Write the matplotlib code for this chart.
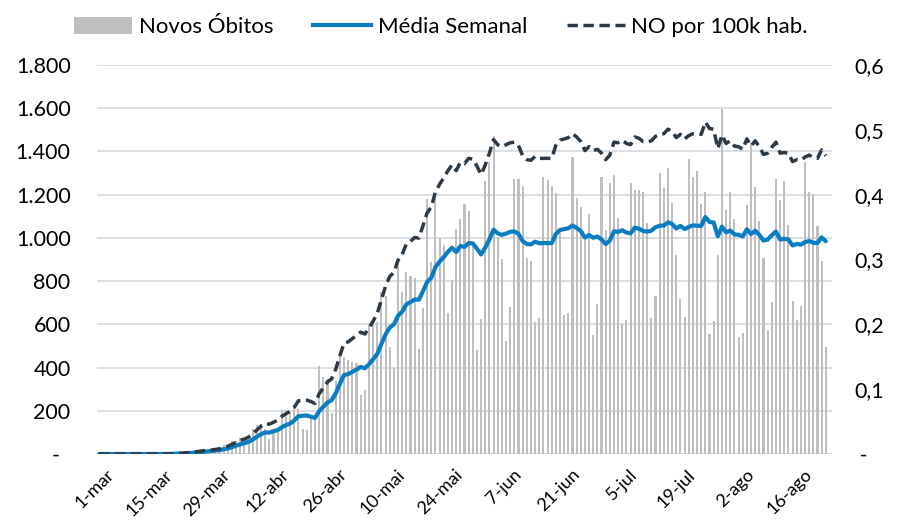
import numpy as np
import matplotlib
matplotlib.use("Agg")
import matplotlib.pyplot as plt
from matplotlib.patches import Patch
from matplotlib.lines import Line2D
from matplotlib.ticker import FuncFormatter, FixedLocator
from matplotlib.transforms import ScaledTranslation

plt.rcParams['font.family'] = ['Lato', 'DejaVu Sans']

# novos óbitos diários, 1-mar a 23-ago
novos_obitos = [
    0, 0, 0, 0, 0, 0, 0, 0, 0, 0, 0, 0, 0, 0, 0, 0,
    1, 3, 3, 4, 7, 7, 9, 12, 13, 18, 15, 22, 22, 23, 42,
    39, 59, 60, 73, 54, 67, 114, 133, 141, 115, 68, 99, 105, 204, 204,
    188, 217, 206, 115, 113, 166, 165, 407, 357, 346, 189, 338, 474, 449, 435,
    428, 421, 275, 296, 600, 615, 610, 751, 730, 496, 396, 881, 749, 844, 824,
    816, 485, 674, 1179, 888, 1188, 1001, 965, 653, 807, 1039, 1086, 1156, 1124, 956, 480,
    623, 1262, 1349, 1473, 1005, 904, 525, 679, 1272, 1274, 1239, 909, 892, 612, 627,
    1282, 1269, 1238, 1206, 1022, 641, 654, 1374, 1185, 1141, 990, 1109, 552, 692, 1280,
    1038, 1252, 1290, 1091, 602, 620, 1254, 1223, 1220, 1214, 1071, 631, 733, 1300, 1233,
    1322, 1163, 921, 716, 632, 1367, 1284, 1311, 1156, 1211, 555, 614, 921, 1595, 1129, 1212,
    1088, 541, 561, 1154, 1437, 1237, 1079, 905, 572, 703, 1274, 1175, 1262, 1060, 709,
    620, 684, 1352, 1212, 1204, 1054, 892, 494,
]

media_semanal = [
    0, 0, 0, 0, 0, 0, 0, 0, 0, 0, 0, 0, 0, 0, 0, 0,
    0.1, 0.6, 1.0, 1.6, 2.6, 3.6, 4.9, 6.4, 7.9, 10.0, 11.6, 13.7, 15.9, 17.9, 22.1,
    25.9, 31.7, 38.1, 45.4, 50.0, 56.3, 66.6, 80.0, 91.7, 99.6, 98.9, 105.3, 110.7, 123.6, 133.7,
    140.4, 155.0, 174.7, 177.0, 178.1, 172.7, 167.1, 198.4, 218.4, 238.4, 249.0, 281.1, 325.1, 365.7, 369.7,
    379.9, 390.6, 402.9, 396.9, 414.9, 438.6, 463.6, 509.7, 553.9, 585.4, 599.7, 639.9, 659.0, 692.4, 702.9,
    715.1, 713.6, 753.3, 795.9, 815.7, 864.9, 890.1, 911.4, 935.4, 954.4, 934.4, 962.7, 958.1, 975.7, 974.4, 949.7,
    923.4, 955.3, 992.9, 1038.1, 1021.1, 1013.7, 1020.1, 1028.1, 1029.6, 1018.9, 985.4, 971.7, 970.0, 982.4, 975.0,
    976.4, 975.7, 975.6, 1018.0, 1036.6, 1040.7, 1044.6, 1057.7, 1045.7, 1031.9, 1001.0, 1013.4, 1000.7, 1006.1, 992.7,
    971.7, 987.6, 1030.4, 1027.9, 1035.0, 1024.7, 1021.0, 1047.4, 1042.9, 1032.0, 1029.1, 1033.3, 1049.4, 1056.0, 1057.4,
    1072.0, 1064.7, 1043.3, 1055.4, 1041.0, 1050.6, 1057.9, 1056.3, 1055.3, 1096.7, 1073.7, 1071.1, 1007.4, 1051.9, 1025.9, 1033.9,
    1016.3, 1014.3, 1006.7, 1040.0, 1017.4, 1032.9, 1013.9, 987.7, 992.1, 1012.4, 1029.6, 992.1, 995.7, 993.0, 965.0,
    971.9, 969.1, 980.3, 985.6, 977.3, 976.4, 1002.6, 984.6,
]

no_por_100k = [
    0, 0, 0, 0, 0, 0, 0, 0, 0, 0, 0, 0, 0, 0, 0, 0,
    0.000, 0.000, 0.000, 0.001, 0.001, 0.002, 0.002, 0.003, 0.004, 0.005, 0.005, 0.006, 0.007, 0.008, 0.010,
    0.012, 0.015, 0.018, 0.021, 0.023, 0.026, 0.031, 0.037, 0.043, 0.047, 0.046, 0.049, 0.052, 0.058, 0.062,
    0.066, 0.072, 0.082, 0.083, 0.083, 0.081, 0.078, 0.093, 0.102, 0.111, 0.116, 0.131, 0.152, 0.171, 0.173,
    0.178, 0.183, 0.188, 0.185, 0.194, 0.205, 0.217, 0.238, 0.259, 0.274, 0.280, 0.299, 0.308, 0.324, 0.328,
    0.334, 0.333, 0.352, 0.372, 0.381, 0.404, 0.416, 0.426, 0.437, 0.446, 0.437, 0.450, 0.448, 0.456, 0.455, 0.444,
    0.431, 0.446, 0.464, 0.485, 0.477, 0.474, 0.477, 0.480, 0.481, 0.476, 0.460, 0.454, 0.453, 0.459, 0.456,
    0.456, 0.456, 0.456, 0.476, 0.484, 0.486, 0.488, 0.494, 0.489, 0.482, 0.468, 0.474, 0.468, 0.470, 0.464,
    0.454, 0.461, 0.481, 0.480, 0.484, 0.479, 0.477, 0.489, 0.487, 0.482, 0.481, 0.483, 0.490, 0.493, 0.494,
    0.501, 0.498, 0.488, 0.493, 0.486, 0.491, 0.494, 0.494, 0.493, 0.512, 0.502, 0.501, 0.471, 0.492, 0.479, 0.483,
    0.475, 0.474, 0.470, 0.486, 0.475, 0.483, 0.474, 0.462, 0.464, 0.473, 0.481, 0.464, 0.465, 0.464, 0.451,
    0.454, 0.453, 0.458, 0.461, 0.457, 0.456, 0.469, 0.460,
]

rotulos_x = ['1-mar', '15-mar', '29-mar', '12-abr', '26-abr', '10-mai', '24-mai',
             '7-jun', '21-jun', '5-jul', '19-jul', '2-ago', '16-ago']

cinza = '#BFBFBF'
azul = '#0A7DC2'
escuro = '#2D3A46'
grade = '#D9DDE2'

x = np.arange(len(novos_obitos))

fig = plt.figure(figsize=(8.99, 5.22), dpi=100)
ax = fig.add_axes([97 / 899, 68 / 522, 735 / 899, 389 / 522])
ax2 = ax.twinx()

ax.bar(x, novos_obitos, width=0.5, color=cinza, zorder=2)
ax.plot(x, media_semanal, color=azul, lw=3.0, zorder=3, solid_capstyle='round')
ax2.plot(x, no_por_100k, color=escuro, lw=2.5, dashes=(3, 1.6), zorder=4)

ax.set_xlim(-0.5, 176.5)
ax.set_ylim(0, 1800)
ax2.set_ylim(0, 0.6)
ax.set_yticks(np.arange(0, 1801, 200))
ax2.set_yticks(np.arange(0, 0.61, 0.1))

ax.grid(axis='y', color=grade, lw=1.3, zorder=0)
ax.set_axisbelow(True)

for a in (ax, ax2):
    for s in ('top', 'left', 'right', 'bottom'):
        a.spines[s].set_visible(False)
ax.axhline(0, color='#D0D4DA', lw=2.0, zorder=1)

ax.yaxis.set_major_formatter(FuncFormatter(
    lambda v, p: '-  ' if v == 0 else f'{int(v):,}'.replace(',', '.')))
ax2.yaxis.set_major_formatter(FuncFormatter(
    lambda v, p: ' -' if abs(v) < 1e-9 else f'{v:.1f}'.replace('.', ',')))
ax.tick_params(axis='y', length=0, pad=19, labelsize=15.5, labelcolor='black')
ax2.tick_params(axis='y', length=0, pad=16, labelsize=15.5, labelcolor='black')

ax.xaxis.set_major_locator(FixedLocator(np.arange(0, 169, 14)))
ax.set_xticklabels(rotulos_x, rotation=45, ha='right', rotation_mode='anchor',
                   fontsize=13)
ax.tick_params(axis='x', length=0, pad=9)
desloc = ScaledTranslation(7 / 100, 0, fig.dpi_scale_trans)
for rot in ax.get_xticklabels():
    rot.set_transform(rot.get_transform() + desloc)

handles = [
    Patch(facecolor=cinza, edgecolor='none'),
    Line2D([], [], color=azul, lw=3.0),
    Line2D([], [], color=escuro, lw=2.5, dashes=(3, 1.6)),
]
labels = ['Novos Óbitos', 'Média Semanal', 'NO por 100k hab.']
fig.legend(handles, labels, loc='center', bbox_to_anchor=(441 / 899, 1 - 27 / 522),
           ncol=3, frameon=False, fontsize=16, handlelength=2.6,
           handleheight=0.8, handletextpad=0.3, columnspacing=1.8)

fig.savefig('out.png', dpi=100)
